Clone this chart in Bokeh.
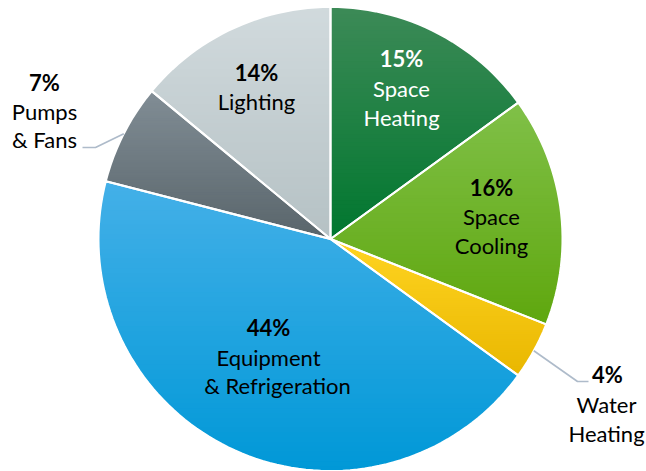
import numpy as np
from bokeh.plotting import figure
from bokeh.models import Range1d
from bokeh.embed import file_html
from bokeh.resources import INLINE
from bokeh.core.properties import value

# ---------------- data ----------------
categories = ["Space Heating", "Space Cooling", "Water Heating",
              "Equipment & Refrigeration", "Pumps & Fans", "Lighting"]
shares = [15, 16, 4, 44, 7, 14]
pct_labels = ["15%", "16%", "4%", "44%", "7%", "14%"]
name_lines = [["Space", "Heating"], ["Space", "Cooling"], ["Water", "Heating"],
              ["Equipment", "& Refrigeration"], ["Pumps", "& Fans"], ["Lighting"]]

# ---------------- styles ----------------
top_colors = ["#3d8a57", "#80c048", "#ffd422", "#44b0e8", "#818d95", "#d1dadd"]
bottom_colors = ["#00772f", "#5fa70e", "#e9b700", "#0098d7", "#59656b", "#b5c1c4"]
text_colors = ["white", "black", "black", "black", "black", "black"]
FONT = "Lato"
FS = "22px"

W, H = 646, 471
CX, CY, R = 330, H - 238.5, 232

# label placement (pixel coords from top-left): x, [y of each line]
label_pos = [
    (401, [58, 88, 117]),
    (491, [187, 216, 245]),
    (606, [374, 404, 433]),
    (268, [327, 357, 385]),
    (44, [82, 111, 139]),
    (256, [72, 101]),
]
line_x_adj = {(3, 2): 9, (2, 0): 1}

p = figure(width=W, height=H, x_range=Range1d(0, W), y_range=Range1d(0, H),
           output_backend="svg", toolbar_location=None, min_border=0)
p.xaxis.visible = False
p.yaxis.visible = False
p.grid.visible = False
p.outline_line_color = None
p.background_fill_color = "white"
p.border_fill_color = "white"


def hex2rgb(h):
    h = h.lstrip("#")
    return np.array([int(h[i:i + 2], 16) for i in (0, 2, 4)], dtype=float)


def rgb2hex(c):
    c = np.clip(np.round(c), 0, 255).astype(int)
    return "#%02x%02x%02x" % tuple(c)


def clip_poly(pts, yc, keep_above):
    out = []
    n = len(pts)
    for i in range(n):
        a = pts[i]
        b = pts[(i + 1) % n]
        ina = a[1] >= yc if keep_above else a[1] <= yc
        inb = b[1] >= yc if keep_above else b[1] <= yc
        if ina:
            out.append(a)
        if ina != inb:
            t = (yc - a[1]) / (b[1] - a[1])
            out.append((a[0] + t * (b[0] - a[0]), yc))
    return out


total = float(sum(shares))
cum = np.concatenate([[0], np.cumsum(shares)]) / total
slice_polys = []
for i, s in enumerate(shares):
    t0, t1 = 2 * np.pi * cum[i], 2 * np.pi * cum[i + 1]
    n = max(8, int(200 * (cum[i + 1] - cum[i])))
    th = np.linspace(t0, t1, n)
    xs = [CX] + list(CX + R * np.sin(th))
    ys = [CY] + list(CY + R * np.cos(th))
    slice_polys.append(list(zip(xs, ys)))

# gradient fill via horizontal bands
NB = 60
bx, by, bc = [], [], []
for i, poly in enumerate(slice_polys):
    ys = [q[1] for q in poly]
    ymin, ymax = min(ys), max(ys)
    ctop, cbot = hex2rgb(top_colors[i]), hex2rgb(bottom_colors[i])
    edges = np.linspace(ymin, ymax, NB + 1)
    for k in range(NB):
        y0 = edges[k]
        y1 = edges[k + 1] + 0.9 if k < NB - 1 else edges[k + 1]
        part = clip_poly(poly, y0, True)
        if len(part) < 3:
            continue
        part = clip_poly(part, y1, False)
        if len(part) < 3:
            continue
        tmid = ((edges[k] + edges[k + 1]) / 2 - ymin) / (ymax - ymin)
        col = cbot + (ctop - cbot) * tmid
        bx.append([q[0] for q in part])
        by.append([q[1] for q in part])
        bc.append(rgb2hex(col))

p.patches(bx, by, fill_color=bc, line_color=None)

# white separators
p.patches([[q[0] for q in poly] for poly in slice_polys],
          [[q[1] for q in poly] for poly in slice_polys],
          fill_alpha=0, line_color="white", line_width=2, line_join="round")

# leader lines
def edge_point(i):
    m = 2 * np.pi * (cum[i] + cum[i + 1]) / 2
    return CX + R * np.sin(m), CY + R * np.cos(m)

wx, wy = edge_point(2)
p.line([wx, 577, 588], [wy, H - 381, H - 381], line_color="#aebbca", line_width=1.6)
px_, py_ = edge_point(4)
p.line([px_, 95, 82], [py_, H - 147, H - 147], line_color="#aebbca", line_width=1.6)

# labels
for i in range(len(shares)):
    x, ylist = label_pos[i]
    p.text([x + line_x_adj.get((i, 0), 0)], [H - ylist[0]], text=[pct_labels[i]],
           text_font=value(FONT), text_font_size=FS, text_font_style="bold",
           text_color=text_colors[i], text_align="center", text_baseline="middle")
    for j, ln in enumerate(name_lines[i]):
        p.text([x + line_x_adj.get((i, j + 1), 0)], [H - ylist[j + 1]], text=[ln],
               text_font=value(FONT), text_font_size=FS, text_color=text_colors[i],
               text_align="center", text_baseline="middle")

open("out.html", "w").write(file_html(p, INLINE))
